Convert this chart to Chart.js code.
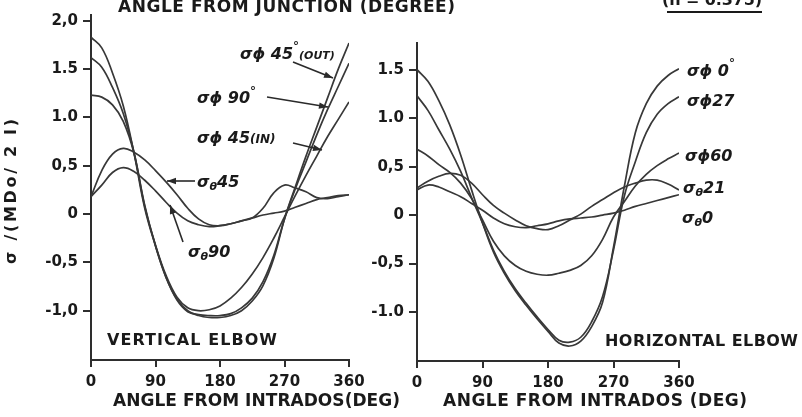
<!DOCTYPE html>
<html><head><meta charset="utf-8">
<script src="https://cdn.jsdelivr.net/npm/chart.js@4.4.0/dist/chart.umd.min.js"></script>
<style>
html,body{margin:0;padding:0;background:#fff;}
#wrap{position:relative;width:802px;height:417px;overflow:hidden;background:#fff;}
canvas{position:absolute;left:0;top:0;}
</style></head><body>
<div id="wrap"><canvas id="c1" width="802" height="417"></canvas><canvas id="c2" width="802" height="417"></canvas></div>
<script>
// ---- data ----
const angles = [0,15,30,45,60,75,90,105,120,135,150,165,180,195,210,225,240,255,270,285,300,315,330,345,360];

// Vertical elbow
const vertPhi45Out = [1.83,1.72,1.46,1.12,0.63,0.06,-0.33,-0.66,-0.88,-1.00,-1.05,-1.07,-1.07,-1.05,-1.00,-0.90,-0.74,-0.46,-0.05,0.28,0.60,0.90,1.20,1.50,1.77];
const vertPhi90    = [1.62,1.52,1.31,1.04,0.64,0.09,-0.33,-0.66,-0.89,-1.01,-1.04,-1.05,-1.05,-1.03,-0.97,-0.87,-0.70,-0.43,-0.05,0.26,0.54,0.82,1.08,1.32,1.56];
const vertPhi45In  = [1.23,1.21,1.13,0.96,0.63,0.08,-0.32,-0.64,-0.86,-0.97,-1.00,-0.99,-0.95,-0.87,-0.76,-0.62,-0.45,-0.25,-0.03,0.19,0.40,0.60,0.80,0.98,1.16];
const vertTheta45  = [0.18,0.45,0.62,0.68,0.64,0.56,0.45,0.33,0.20,0.06,-0.05,-0.11,-0.12,-0.10,-0.07,-0.04,0.06,0.22,0.30,0.27,0.23,0.17,0.16,0.18,0.20];
const vertTheta90  = [0.18,0.30,0.43,0.48,0.44,0.35,0.24,0.12,0.01,-0.07,-0.11,-0.13,-0.12,-0.10,-0.07,-0.04,-0.01,0.01,0.03,0.07,0.11,0.15,0.17,0.19,0.20];

// Horizontal elbow
const horPhi0    = [1.50,1.38,1.18,0.93,0.62,0.26,-0.08,-0.38,-0.60,-0.78,-0.93,-1.07,-1.20,-1.32,-1.35,-1.30,-1.15,-0.90,-0.33,0.30,0.85,1.15,1.33,1.44,1.51];
const horPhi27   = [1.23,1.08,0.88,0.68,0.45,0.18,-0.08,-0.36,-0.58,-0.76,-0.91,-1.05,-1.18,-1.29,-1.31,-1.26,-1.10,-0.84,-0.36,0.20,0.55,0.85,1.04,1.15,1.22];
const horPhi60   = [0.68,0.61,0.52,0.44,0.33,0.17,-0.05,-0.27,-0.42,-0.52,-0.58,-0.61,-0.62,-0.60,-0.57,-0.52,-0.42,-0.25,-0.02,0.14,0.30,0.42,0.51,0.58,0.64];
const horTheta21 = [0.28,0.35,0.40,0.43,0.41,0.33,0.21,0.10,0.02,-0.05,-0.11,-0.14,-0.15,-0.11,-0.05,0.01,0.09,0.16,0.23,0.29,0.33,0.36,0.36,0.32,0.26];
const horTheta0  = [0.26,0.31,0.29,0.24,0.19,0.12,0.05,-0.03,-0.09,-0.12,-0.13,-0.11,-0.09,-0.06,-0.04,-0.03,-0.02,0.00,0.02,0.05,0.09,0.12,0.15,0.18,0.21];

// ticks
const xTicks = [0,90,180,270,360];
const xTickLabels = ['0','90','180','270','360'];
const leftYTicks = [2.0,1.5,1.0,0.5,0,-0.5,-1.0];
const leftYTickLabels = ['2,0','1.5','1.0','0,5','0','-0,5','-1,0'];
const rightYTicks = [1.5,1.0,0.5,0,-0.5,-1.0];
const rightYTickLabels = ['1.5','1.0','0,5','0','-0,5','-1.0'];

// ---- drawing helpers ----
const INK = '#1a1a1a';
const LINE = '#383838';
const FONT = '"DejaVu Sans"';

function fitText(ctx, text, x0, x1, yMid, size, style) {
  ctx.save();
  ctx.fillStyle = INK;
  ctx.font = `${style||''} bold ${size}px ${FONT}`;
  ctx.letterSpacing = '0px';
  const w = ctx.measureText(text).width;
  const n = [...text].length;
  const ls = n > 1 ? (x1 - x0 - w) / (n - 1) : 0;
  ctx.letterSpacing = ls + 'px';
  ctx.textAlign = 'left'; ctx.textBaseline = 'middle';
  ctx.fillText(text, x0, yMid);
  ctx.restore();
}
function rich(ctx, x, y, parts) {
  ctx.save();
  ctx.fillStyle = INK; ctx.textAlign = 'left'; ctx.textBaseline = 'alphabetic';
  let cx = x;
  for (const p of parts) {
    ctx.font = `italic bold ${p.s||16}px ${FONT}`;
    ctx.fillText(p.t, cx, y + (p.dy||0));
    cx += ctx.measureText(p.t).width;
  }
  ctx.restore();
}
function arrow(ctx, x1, y1, x2, y2) {
  ctx.save();
  ctx.strokeStyle = '#2a2a2a'; ctx.fillStyle = '#2a2a2a'; ctx.lineWidth = 1.6;
  ctx.beginPath(); ctx.moveTo(x1, y1); ctx.lineTo(x2, y2); ctx.stroke();
  const a = Math.atan2(y2 - y1, x2 - x1), L = 9, H = 3.2;
  ctx.beginPath();
  ctx.moveTo(x2, y2);
  ctx.lineTo(x2 - L*Math.cos(a) + H*Math.sin(a), y2 - L*Math.sin(a) - H*Math.cos(a));
  ctx.lineTo(x2 - L*Math.cos(a) - H*Math.sin(a), y2 - L*Math.sin(a) + H*Math.cos(a));
  ctx.closePath(); ctx.fill();
  ctx.restore();
}

function ds(vals) {
  return {
    data: angles.map((a, i) => ({x: a, y: vals[i]})),
    borderColor: LINE, borderWidth: 1.7, pointRadius: 0, fill: false,
    tension: 0.4
  };
}

function makeChart(canvas, series, cfg) {
  const tickFont = {family: 'DejaVu Sans', weight: 'bold', size: 15};
  return new Chart(canvas, {
    type: 'line',
    data: {datasets: series.map(ds)},
    options: {
      responsive: false, animation: false, devicePixelRatio: 1,
      events: [],
      layout: {padding: cfg.padding},
      plugins: {legend: {display: false}, tooltip: {enabled: false}},
      scales: {
        x: {
          type: 'linear', min: 0, max: 360,
          afterBuildTicks: s => { s.ticks = xTicks.map(v => ({value: v})); },
          afterFit: s => { s.height = cfg.xHeight; },
          ticks: {autoSkip: false, maxRotation: 0, padding: 6, color: INK, font: tickFont,
                  callback: (v, i) => xTickLabels[i]},
          grid: {drawOnChartArea: false, drawTicks: true, tickLength: 7, color: '#2e2e2e', lineWidth: 2},
          border: {display: true, color: '#2e2e2e', width: 2}
        },
        y: {
          type: 'linear', min: cfg.yMin, max: cfg.yMax,
          afterBuildTicks: s => { s.ticks = cfg.yTicks.map(v => ({value: v})); },
          afterFit: s => { s.width = cfg.yWidth; },
          ticks: {autoSkip: false, padding: 5, color: INK, font: tickFont,
                  callback: (v, i) => cfg.yLabels[i]},
          grid: {drawOnChartArea: false, drawTicks: true, tickLength: 8, color: '#2e2e2e', lineWidth: 2},
          border: {display: true, color: '#2e2e2e', width: 2}
        }
      }
    },
    plugins: [{id: 'annot', afterDraw: chart => cfg.annotate(chart.ctx, chart)}]
  });
}

// ---- left: vertical elbow ----
makeChart(document.getElementById('c1'),
  [vertPhi45Out, vertPhi90, vertPhi45In, vertTheta45, vertTheta90],
  {
    padding: {left: 0, top: 15, right: 453, bottom: 0},
    xHeight: 57, yWidth: 91, yMin: -1.51, yMax: 2.06,
    yTicks: leftYTicks, yLabels: leftYTickLabels,
    annotate: (ctx) => {
      fitText(ctx, 'ANGLE FROM JUNCTION (DEGREE)', 118, 455, 8, 17);
      fitText(ctx, '(h = 0.375)', 662, 762, 1, 16);
      ctx.save(); ctx.strokeStyle = INK; ctx.lineWidth = 2.2;
      ctx.beginPath(); ctx.moveTo(667, 12); ctx.lineTo(762, 12); ctx.stroke(); ctx.restore();
      ctx.save(); ctx.translate(12, 192); ctx.rotate(-Math.PI/2);
      fitText(ctx, 'σ /(MDo/ 2 I)', -72, 73, 0, 16);
      ctx.restore();
      fitText(ctx, 'ANGLE FROM INTRADOS(DEG)', 113, 400, 402, 17);
      fitText(ctx, 'VERTICAL ELBOW', 107, 277, 341, 16);
      rich(ctx, 240, 59, [{t:'σϕ 45'},{t:'°',s:12,dy:-9},{t:'(OUT)',s:11}]);
      rich(ctx, 197, 103, [{t:'σϕ 90'},{t:'°',s:12,dy:-8}]);
      rich(ctx, 197, 143, [{t:'σϕ 45'},{t:'(IN)',s:12}]);
      rich(ctx, 197, 187, [{t:'σ'},{t:'θ',s:11,dy:3},{t:'45'}]);
      rich(ctx, 188, 257, [{t:'σ'},{t:'θ',s:11,dy:3},{t:'90'}]);
      arrow(ctx, 293, 62, 333, 78);
      arrow(ctx, 267, 97, 328, 107);
      arrow(ctx, 293, 143, 322, 150);
      arrow(ctx, 195, 181, 167, 181);
      arrow(ctx, 183, 242, 170, 205);
    }
  });

// ---- right: horizontal elbow ----
makeChart(document.getElementById('c2'),
  [horPhi0, horPhi27, horPhi60, horTheta21, horTheta0],
  {
    padding: {left: 360, top: 43, right: 123, bottom: 0},
    xHeight: 56, yWidth: 57, yMin: -1.505, yMax: 1.775,
    yTicks: rightYTicks, yLabels: rightYTickLabels,
    annotate: (ctx) => {
      fitText(ctx, 'ANGLE FROM INTRADOS (DEG)', 443, 747, 402, 17);
      fitText(ctx, 'HORIZONTAL ELBOW', 605, 798, 342, 16);
      rich(ctx, 687, 76, [{t:'σϕ 0'},{t:'°',s:12,dy:-9}]);
      rich(ctx, 687, 106, [{t:'σϕ27'}]);
      rich(ctx, 685, 161, [{t:'σϕ60'}]);
      rich(ctx, 683, 193, [{t:'σ'},{t:'θ',s:11,dy:3},{t:'21'}]);
      rich(ctx, 682, 223, [{t:'σ'},{t:'θ',s:11,dy:3},{t:'0'}]);
    }
  });
</script>
</body></html>
